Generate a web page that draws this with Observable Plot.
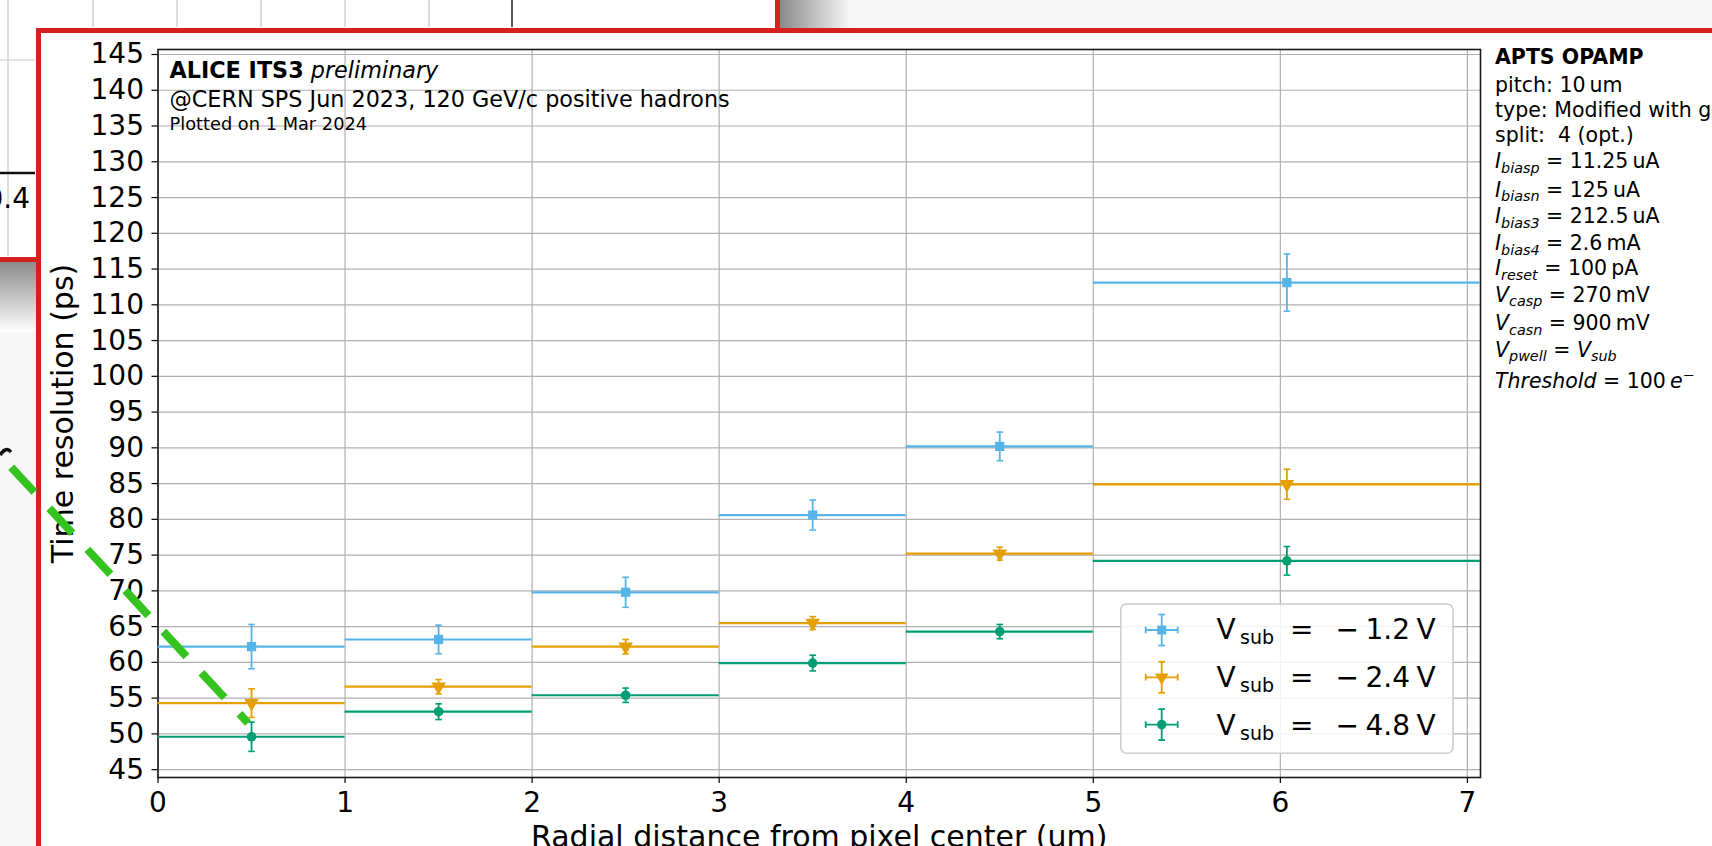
<!DOCTYPE html>
<html>
<head>
<meta charset="utf-8">
<script src="https://cdn.jsdelivr.net/npm/d3@7"></script>
<script src="https://cdn.jsdelivr.net/npm/@observablehq/plot@0.6"></script>
<style>
html, body { margin: 0; padding: 0; width: 1712px; height: 846px; overflow: hidden; background: #f7f7f7; font-family: "DejaVu Sans"; }
#stage { position: relative; width: 1712px; height: 846px; overflow: hidden; }
.abs { position: absolute; }
#behind { left: -20px; top: -20px; width: 795px; height: 277px; background: #fff; border-right: 5px solid #d61f1f; border-bottom: 5px solid #d61f1f; }
#shadowTop { left: 780px; top: 0; width: 70px; height: 28px; background: linear-gradient(to right, #8a8a8a, #f7f7f7); }
#shadowLeft { left: 0; top: 262px; width: 36px; height: 70px; background: linear-gradient(to bottom, #8a8a8a, #ffffff); }
#frame { left: 36px; top: 28px; width: 1800px; height: 900px; background: #fff; border-left: 5px solid #d61f1f; border-top: 5px solid #d61f1f; }
#stage svg { position: absolute; left: 0; top: 0; }
</style>
</head>
<body>
<div id="stage">
  <div id="behind" class="abs"></div>
  <div id="shadowTop" class="abs"></div>
  <div id="shadowLeft" class="abs"></div>
  <div id="frame" class="abs"></div>
</div>
<script>
// ---------------- data ----------------
const seriesNames = ["−1.2 V", "−2.4 V", "−4.8 V"];
const seriesColors = ["#56B4E9", "#E69F00", "#009E73"];
const binLo = [0, 1, 2, 3, 4, 5];
const binHi = [1, 2, 3, 4, 5, 7.07];
const binCenter = [0.5, 1.5, 2.5, 3.5, 4.5, 6.035];
const res12 = [62.2, 63.2, 69.8, 80.6, 90.2, 113.1];
const err12 = [3.1, 2.0, 2.1, 2.1, 2.0, 4.0];
const res24 = [54.3, 56.6, 62.2, 65.5, 75.2, 84.9];
const err24 = [2.0, 1.0, 1.0, 0.9, 0.9, 2.1];
const res48 = [49.6, 53.1, 55.4, 59.9, 64.3, 74.2];
const err48 = [2.05, 1.1, 1.0, 1.1, 1.0, 2.0];
const xTicks = [0, 1, 2, 3, 4, 5, 6, 7];
const yTicks = [45, 50, 55, 60, 65, 70, 75, 80, 85, 90, 95, 100, 105, 110, 115, 120, 125, 130, 135, 140, 145];
const xLabel = "Radial distance from pixel center (um)";
const yLabel = "Time resolution (ps)";

const values = [res12, res24, res48];
const errors = [err12, err24, err48];
const rows = [];
seriesNames.forEach((s, i) => binCenter.forEach((c, j) => rows.push({
  series: s, lo: binLo[j], hi: binHi[j], c, v: values[i][j], e: errors[i][j]
})));
const bySeries = s => rows.filter(d => d.series === s);

const capSymbol = { draw(ctx, size) { const r = Math.sqrt(size / Math.PI); ctx.moveTo(-r, 0); ctx.lineTo(r, 0); } };

const FONT = "DejaVu Sans";
const chart = Plot.plot({
  width: 1712, height: 846,
  marginLeft: 157.5, marginRight: 232, marginTop: 49, marginBottom: 69,
  style: { fontFamily: FONT, color: "#000", background: "none", overflow: "visible" },
  x: { domain: [0, 7.07] },
  y: { domain: [43.9, 145.7] },
  color: { domain: seriesNames, range: seriesColors },
  marks: [
    Plot.gridX(xTicks, { stroke: "#b0b0b0", strokeOpacity: 1, strokeWidth: 1.2 }),
    Plot.gridY(yTicks, { stroke: "#b0b0b0", strokeOpacity: 1, strokeWidth: 1.2 }),
    Plot.axisX(xTicks, { tickSize: 6, tickPadding: 9, fontSize: 28, tickFormat: d => String(d), label: null, strokeWidth: 1.2 }),
    Plot.axisY(yTicks, { tickSize: 6, tickPadding: 8, fontSize: 28, tickFormat: d => String(d), label: null, strokeWidth: 1.2 }),
    Plot.text([xLabel], { frameAnchor: "bottom", textAnchor: "middle", lineAnchor: "top", dy: 48, fontSize: 30, fill: "#000" }),
    Plot.text([yLabel], { frameAnchor: "left", textAnchor: "middle", rotate: -90, lineAnchor: "top", dx: -106, fontSize: 30, fill: "#000" }),
    Plot.frame({ stroke: "#1a1a1a", strokeWidth: 1.6 }),
    Plot.ruleY(rows, { y: "v", x1: "lo", x2: "hi", stroke: "series", strokeWidth: 2.2 }),
    Plot.ruleX(rows, { x: "c", y1: d => d.v - d.e, y2: d => d.v + d.e, stroke: "series", strokeWidth: 1.8 }),
    Plot.dot(rows, { x: "c", y: d => d.v + d.e, symbol: capSymbol, r: 3.3, fill: "none", stroke: "series", strokeWidth: 1.6 }),
    Plot.dot(rows, { x: "c", y: d => d.v - d.e, symbol: capSymbol, r: 3.3, fill: "none", stroke: "series", strokeWidth: 1.6 }),
    Plot.dot(bySeries(seriesNames[0]), { x: "c", y: "v", symbol: "square", r: 5.2, fill: seriesColors[0], stroke: "none" }),
    Plot.dot(bySeries(seriesNames[1]), { x: "c", y: "v", symbol: "triangle", rotate: 180, r: 5.4, fill: seriesColors[1], stroke: "none" }),
    Plot.dot(bySeries(seriesNames[2]), { x: "c", y: "v", symbol: "circle", r: 4.8, fill: seriesColors[2], stroke: "none" })
  ]
});
document.getElementById("stage").appendChild(chart);

// ---------------- overlay: annotations, info text, legend, decorations ----------------
const annotLines = [
  [["ALICE ITS3", "b"], [" preliminary", "i"]],
  [["@CERN SPS Jun 2023, 120 GeV/c positive hadrons", "n"]],
  [["Plotted on 1 Mar 2024", "n"]]
];
const annotSizes = [22.3, 22.3, 17.8];
const annotBase = [78.3, 106.5, 130];

const infoLines = [
  [["APTS OPAMP", "b"]],
  [["pitch: 10\u2009um", "n"]],
  [["type: Modified with gap", "n"]],
  [["split:  4 (opt.)", "n"]],
  [["I", "i"], ["biasp", "s"], [" = 11.25\u2009uA", "n"]],
  [["I", "i"], ["biasn", "s"], [" = 125\u2009uA", "n"]],
  [["I", "i"], ["bias3", "s"], [" = 212.5\u2009uA", "n"]],
  [["I", "i"], ["bias4", "s"], [" = 2.6\u2009mA", "n"]],
  [["I", "i"], ["reset", "s"], [" = 100\u2009pA", "n"]],
  [["V", "i"], ["casp", "s"], [" = 270\u2009mV", "n"]],
  [["V", "i"], ["casn", "s"], [" = 900\u2009mV", "n"]],
  [["V", "i"], ["pwell", "s"], [" = ", "n"], ["V", "i"], ["sub", "s"]],
  [["Threshold", "i"], [" = 100\u2009", "n"], ["e", "i"], ["−", "p"]]
];
const infoBase = [64.3, 91.7, 117.3, 141.7, 168.3, 196.7, 223.3, 250, 275, 301.7, 330, 356.7, 388];

const ov = d3.select("#stage").append("svg")
  .attr("width", 1712).attr("height", 846)
  .attr("font-family", FONT).style("position", "absolute").style("left", 0).style("top", 0);

function richText(g, x, y, segs, fs) {
  const t = g.append("text").attr("x", x).attr("y", y).attr("font-size", fs)
    .attr("fill", "#000").style("white-space", "pre");
  let shift = 0;
  segs.forEach(([str, st]) => {
    const sp = t.append("tspan").text(str);
    let target = 0;
    if (st === "b") sp.attr("font-weight", "bold");
    if (st === "i") sp.attr("font-style", "italic");
    if (st === "s") { sp.attr("font-style", "italic").attr("font-size", fs * 0.7); target = fs * 0.22; }
    if (st === "p") { sp.attr("font-size", fs * 0.7); target = -fs * 0.38; }
    sp.attr("dy", target - shift);
    shift = target;
  });
  return t;
}

// behind-slide remnants (decorative)
const deco = ov.append("g");
[8].forEach(x => deco.append("line").attr("x1", x).attr("x2", x).attr("y1", 0).attr("y2", 256).attr("stroke", "#c8c8c8").attr("stroke-width", 1.2));
[93, 177, 261, 345, 429].forEach(x => deco.append("line").attr("x1", x).attr("x2", x).attr("y1", 0).attr("y2", 27).attr("stroke", "#c8c8c8").attr("stroke-width", 1.2));
deco.append("line").attr("x1", 512).attr("x2", 512).attr("y1", 0).attr("y2", 27).attr("stroke", "#222").attr("stroke-width", 1.5);
deco.append("line").attr("x1", 0).attr("x2", 35).attr("y1", 60).attr("y2", 60).attr("stroke", "#c8c8c8").attr("stroke-width", 1.2);
deco.append("line").attr("x1", 0).attr("x2", 35).attr("y1", 173).attr("y2", 173).attr("stroke", "#111").attr("stroke-width", 2.5);
deco.append("text").attr("x", 30).attr("y", 208).attr("text-anchor", "end").attr("font-size", 28).attr("fill", "#000").text("0.4");
deco.append("rect").attr("x", 36).attr("y", 28).attr("width", 5).attr("height", 846).attr("fill", "#d61f1f");

annotLines.forEach((segs, i) => richText(ov, 169.5, annotBase[i], segs, annotSizes[i]));
infoLines.forEach((segs, i) => richText(ov, 1495, infoBase[i], segs, 20.5));

// legend
const lg = ov.append("g");
lg.append("rect").attr("x", 1120.7).attr("y", 604).attr("width", 332.3).attr("height", 149.3).attr("rx", 6)
  .attr("fill", "#fff").attr("fill-opacity", 0.85).attr("stroke", "#cccccc").attr("stroke-width", 1.5);
const legSymbols = [d3.symbolSquare, d3.symbolTriangle, d3.symbolCircle];
const legSizes = [80, 78, 72];
const legRot = [0, 180, 0];
const legValues = ["1.2", "2.4", "4.8"];
seriesNames.forEach((s, i) => {
  const cy = 630 + i * 47.3, cx = 1161.7, col = seriesColors[i];
  const g = lg.append("g").attr("stroke", col).attr("stroke-width", 1.8);
  g.append("line").attr("x1", cx - 16).attr("x2", cx + 16).attr("y1", cy).attr("y2", cy);
  g.append("line").attr("x1", cx).attr("x2", cx).attr("y1", cy - 15.5).attr("y2", cy + 15.5);
  [[cx - 16, cy - 3.3, cx - 16, cy + 3.3], [cx + 16, cy - 3.3, cx + 16, cy + 3.3], [cx - 3.3, cy - 15.5, cx + 3.3, cy - 15.5], [cx - 3.3, cy + 15.5, cx + 3.3, cy + 15.5]]
    .forEach(([a, b, c, d]) => g.append("line").attr("x1", a).attr("y1", b).attr("x2", c).attr("y2", d));
  lg.append("path").attr("d", d3.symbol(legSymbols[i], legSizes[i])())
    .attr("transform", `translate(${cx},${cy}) rotate(${legRot[i]})`).attr("fill", col);
  const by = 639.3 + i * 47.6;
  const t = lg.append("text").attr("y", by).attr("font-size", 28).attr("fill", "#000");
  t.append("tspan").attr("x", 1216.5).text("V");
  t.append("tspan").attr("x", 1240).attr("dy", 5).attr("font-size", 19).text("sub");
  t.append("tspan").attr("x", 1290).attr("dy", -5).text("=");
  t.append("tspan").attr("x", 1335.5).text("−");
  t.append("tspan").attr("x", 1365.5).text(legValues[i]);
  t.append("tspan").attr("x", 1416.5).text("V");
});

// green dashed annotation stroke and black fragment from the slide
ov.append("line").attr("x1", -20).attr("y1", 433.4).attr("x2", 248).attr("y2", 723)
  .attr("stroke", "#35c41f").attr("stroke-width", 8).attr("stroke-dasharray", "34 22").attr("stroke-dashoffset", 10);
ov.append("path").attr("d", "M0,455 Q6,446 11,452").attr("fill", "none").attr("stroke", "#111").attr("stroke-width", 3.5);
</script>
</body>
</html>
